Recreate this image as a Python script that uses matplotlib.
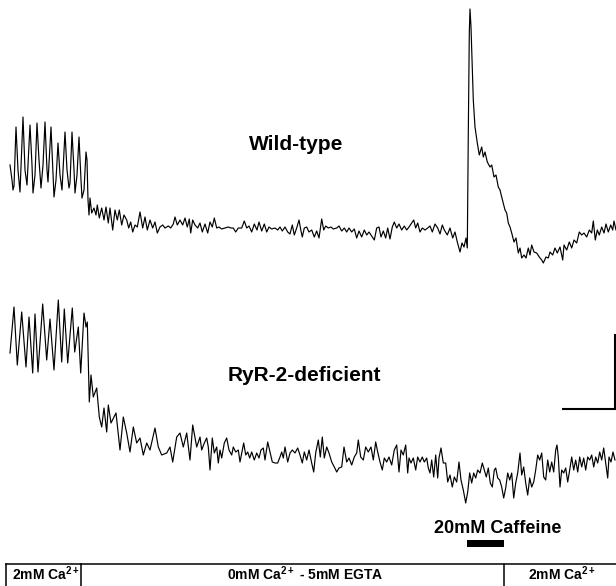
import matplotlib
matplotlib.use("Agg")
import matplotlib.pyplot as plt
import numpy as np

plt.rcParams['font.family'] = ['Liberation Sans', 'DejaVu Sans']
plt.rcParams['mathtext.fontset'] = 'custom'
plt.rcParams['mathtext.rm'] = 'Liberation Sans:bold'
plt.rcParams['mathtext.it'] = 'Liberation Sans:bold'
plt.rcParams['mathtext.bf'] = 'Liberation Sans:bold'

# ---------------- data (time in s, fluorescence in a.u.) ----------------
wt_t = [1, 3, 4, 5, 7, 9, 11, 14, 16, 18, 21, 23, 24, 26, 28, 30, 32, 34, 36, 38, 39, 42, 44, 45, 47, 49, 51, 53,
        56, 58, 60, 61, 63, 65, 66, 68, 70, 72, 73, 75, 77, 78, 79, 80,
        81, 82.7, 85, 87, 88.3, 90.3, 92.7, 95, 97, 99.3, 101, 103.7, 106, 108.3, 110.3, 112.7, 115, 117.7, 119.7,
        121.7, 123.7, 126, 128.3, 131, 133.7, 136, 138.3, 141, 143.7, 146, 148.3, 151, 153.7, 156, 159.3, 161.7,
        164.3, 166, 168.3, 171, 173.7, 176, 178.3, 180.3, 181.7, 183.7, 186,
        188.7, 191, 193.3, 196, 198.7, 201, 203.3, 205.3, 207.7, 210, 212.7, 216, 219.3, 222, 224.3, 226.7, 229.3,
        232.7, 235.3, 237.7, 240, 242.7, 245.3, 248, 250, 252.7, 255.3, 257.7, 260, 262.7, 266, 268.7, 271, 273.3,
        276, 278.7, 281, 283.3, 285.3, 287.7, 290, 292, 293.3, 295.3, 297.7, 300, 302.7, 305.3, 307.7, 310, 312.7,
        314.7, 316.7, 319.3, 322, 324.3, 327.7, 330, 332.7, 335.3, 337.7, 340, 342.7, 345.3, 347.7, 350, 352.7,
        355.3, 357.7, 360, 362.7, 365.3, 367.7, 370, 372, 374.3, 376.7, 378.7, 381, 383.3, 385.3, 387.7, 390, 392.7,
        395.3, 397.7, 400, 402.7, 404.7, 406.7, 408.7, 411, 413.3, 416, 418.7, 421, 423.3, 426, 428.7, 431, 433.3,
        435.3,
        438.3, 441, 443.7, 446, 448.3, 451, 453, 455, 457, 458.3, 459.3, 460.3, 461, 462, 463.3, 464.3, 466, 468.3,
        470.3, 472.7, 474.3, 476, 478.3, 481, 482.7, 485, 487, 489.3, 491, 492.7, 496, 497.7, 499.3, 501, 502.7,
        505, 507, 509.3, 511, 512.7, 515, 517, 519.3, 521, 522.7, 525, 527.7, 530.3, 532.7, 534.3, 537, 539.3, 541,
        543.7, 546, 548.3, 551, 553.7, 555, 557.7, 560.3, 562.7, 565, 567.7, 570.3, 572.7, 575, 577.7, 580.3,
        582.7, 584.3, 586.3, 588.3, 590.3, 592.7, 595, 597, 599.3, 601.7, 603.7, 605, 607]
wt_f = [75, 60, 50, 54, 113, 70, 48, 123, 70, 55, 115, 75, 47, 65, 117, 80, 52, 75, 118, 70, 58, 113, 65, 43,
        60, 97, 65, 50, 108, 70, 52, 57, 108, 70, 47, 65, 103, 60, 42, 50, 88, 80, 40, 25,
        42, 27, 32, 25, 35, 22, 32, 20, 33, 17, 32, 10, 30, 20, 30, 15, 25, 20, 12,
        18, 8, 15, 13, 28, 12, 23, 10, 20, 12, 18, 7, 13, 15, 12, 14, 12,
        16, 23, 15, 20, 15, 22, 13, 21, 7, 20, 15,
        12, 17, 8, 16, 7, 18, 13, 22, 12, 13, 11, 12, 13, 12, 12, 8, 12,
        12, 19, 12, 14, 8, 16, 10, 18, 9, 16, 8, 13, 11, 12, 10, 13, 9,
        13, 8, 6, 15, 5, 12, 20, 9, 3, 12, 13, 8, 10, 3, 9, 2, 21,
        10, 14, 12, 13, 11, 12, 14, 9, 12, 8, 12, 8, 11, 2, 9, 3,
        10, 5, 8, 4, 0, 12, 13, 3, 9, 2, 12, 1, 13, 18, 12, 16,
        10, 14, 10, 13, 17, 20, 12, 17, 8, 12, 10, 12, 14, 8, 16, 12, 6, 15,
        10,
        5, 12, 2, 8, -2, -12, -3, -7, 2, -8, 107, 207, 231, 213, 173, 140, 113, 97,
        85, 93, 83, 88, 78, 73, 75, 63, 65, 53, 50, 43, 30, 27, 17, 13, 7,
        -2, 2, -13, -8, -18, -15, -18, -8, -15, -5, -12, -13, -17, -20, -23, -17, -18, -12,
        -15, -8, -13, -7, -20, -5, -10, -2, -8, 0, -3, 8,
        5, 7, 3, 10, 7, 19, 0, 10, 5, 13, 7, 16, 8, 15, 10, 19, 10]

ryr_t = [1, 5, 8.3, 12.7, 17, 20, 23.7, 26, 29, 33.7, 37.7, 41, 45, 49.3, 52.7, 55.3, 58.7, 63.3, 65.7, 69.3,
         71.7, 75, 77, 78.3, 80.3, 82, 84.3, 87.7, 90.3, 92.7, 95, 97.7, 99.3, 102, 105, 107, 111, 114.3, 117.7,
         121, 124.3, 127.7, 131, 134.3, 137.7, 141, 146, 149.3, 152.7, 157.7, 161, 163.7, 167.7, 171, 174.3,
         177.7, 181, 183.7, 187.7, 191,
         192.7, 195.3, 197.7, 199.3, 201, 203.3, 205.3, 207.7, 209.3, 211, 212.7, 215.3, 217.7, 220, 222.7, 224.3,
         226.7, 229.3, 231, 232.7, 234.7, 236.7, 238.7, 240.7, 242.7, 245.3, 247.7, 250, 252, 254.3, 256, 258.7,
         261, 263.3, 266, 268.7, 271, 272.7, 274.3, 276, 278.7, 281, 283.3, 286, 288.7, 291, 293.3, 295.3, 297.7,
         300, 302.7, 304.7, 306.7, 309.3, 311.3, 313.3, 315.3, 317.7, 320, 322.7, 325.3, 327.7, 330, 332.7, 335,
         337.7, 340, 342.7, 345.3, 347.7, 349.3, 351.7, 354.3, 356.7, 359.3, 362, 364.3, 366.7, 368.7, 371, 373.3,
         375.3, 377.7, 380, 382.7, 385.3, 387.7, 390, 392, 394.3, 396.7,
         398.7, 400, 402, 404.3, 406.7, 408.7, 411, 413.3, 415.3, 417.7, 419.3, 421, 422.7, 424.7, 426.7, 428.7,
         430, 432, 434.3, 436.7, 438.7, 441, 443.3, 445.3, 447.7, 450, 452, 454.3, 456.7, 458.7, 460.7, 462.7,
         464.7, 466.7, 468.7, 471, 473.3, 475.3, 477.3, 479.3, 481.3, 483.3, 485.3, 486.7, 488.7, 490.7, 492.7,
         494.7, 496.7, 498.7, 500.7, 502.7, 504.7, 506.7, 508.7, 511, 512.7, 514.7, 516.7, 518.7, 520.7, 522.7,
         524.7, 526.7, 528.7, 530.7, 532.7, 534.7, 536.7, 538.7, 540.7, 542.7, 544.7, 546.7, 548, 549.3, 551,
         552.7, 554.7, 556.7, 558.7, 560.7, 562.7, 564.7, 566.7, 568.7, 570.7, 572.7, 574.7, 576.7, 578.7, 580.7,
         582.7, 584.7, 586.7, 588.7, 590.7, 592.7, 594.7, 596.7, 598.7, 600, 602, 604, 606]
ryr_f = [107, 153, 95, 148, 93, 143, 87, 146, 88, 156, 100, 141, 90, 160, 98, 151, 97, 152, 108, 133,
         87, 147, 133, 138, 58, 85, 63, 72, 43, 33, 52, 28, 55, 37, 43, 47, 10, 43, 27,
         8, 33, 17, 22, 5, 17, 10, 32, 13, 5, 7, 13, -2, 23, 27, 13,
         27, 0, 35, 13, 23,
         10, 17, 22, 13, -10, 22, 7, 13, -3, 10, 2, 17, 22, 10, 5, 13,
         8, 10, -2, 7, 17, 5, 8, 2, 8, 0, 7, 2, 10, 12, 0, 18,
         8, -2, -3, -3, 3, 8, 2, 13, -2, 7, 10, 7, 12, 5, -3, 8, 0,
         10, -3, -12, 7, 20, 3, 23, 2, 13, 7, -2, -7, -12, -8, -7, 13,
         -2, 2, -5, 3, 7, 20, 3, 0, 13, 8, 13, 0, 18, 8, -2,
         -10, 2, -2, 3, -5, 10, 15, -12, 10, 5, 15,
         -13, 2, -3, 2, -10, 3, -2, 3, -2, 2, -8, -13, 0, -17, 5, -18,
         2, 12, -3, -3, -22, -15, -27, -17, -22, -2, -20, -30, -43, -32, -13, -23,
         -13, -18, -10, -13, -3, -10, -17, -8, -23, -27, -10, -8, -18, -20, -27,
         -38, -28, -13, -20, -13, -38, -23, -13, 7, -15, -7, -23, -35, -18, -27,
         -22, -10, 5, 0, 7, -17, -20, 0, -12, -2, -12, 10, 15, 3, -27,
         -10, -13, -8, -22, -10, 3, -10, 0, -12, 3, -7, 2, -10, 3, 0,
         5, -7, 3, -3, 8, 0, 12, -3, -18, 3, -2, 8, 0]

# labels
trace_labels = ["Wild-type", "RyR-2-deficient"]
caffeine_label = "20mM Caffeine"
caffeine_on, caffeine_off = 457.7, 495.0
solution_labels = [r"2mM Ca$^{\mathrm{2+}}$", r"0mM Ca$^{\mathrm{2+}}$ - 5mM EGTA", r"2mM Ca$^{\mathrm{2+}}$"]

W, H = 616, 586
fig = plt.figure(figsize=(W / 100, H / 100), dpi=100)
fig.patch.set_facecolor("white")

# trace axes (time in s horizontally)
ax = fig.add_axes([0, 0, 1, 1])
ax.set_xlim(-9, W - 9)
ax.set_ylim(0, H)
ax.axis("off")
WT_OFF, RYR_OFF = 346, 126
ax.plot(wt_t, np.array(wt_f) + WT_OFF, color="black", lw=0.85, solid_joinstyle="round")
ax.plot(ryr_t, np.array(ryr_f) + RYR_OFF, color="black", lw=0.85, solid_joinstyle="round")

# overlay axes in pixel space for annotations
ov = fig.add_axes([0, 0, 1, 1], facecolor="none")
ov.set_xlim(0, W)
ov.set_ylim(H, 0)
ov.axis("off")

ov.text(296, 150, trace_labels[0], ha="center", va="baseline", fontsize=15, fontweight="bold")
ov.text(304, 381, trace_labels[1], ha="center", va="baseline", fontsize=15, fontweight="bold")

# scale bar
ov.plot([562, 615, 615], [409, 409, 334], color="black", lw=1.5, solid_capstyle="butt",
        solid_joinstyle="miter")

# caffeine application bar (in time units)
ax.fill_between([caffeine_on, caffeine_off], H - 547, H - 539.5, color="black", lw=0)
ov.text(498, 533, caffeine_label, ha="center", va="baseline", fontsize=13, fontweight="bold")

# solution table
ov.plot([6, 616], [564, 564], color="black", lw=1.1)
for xv in [6, 81, 504]:
    ov.plot([xv, xv], [564, 587], color="black", lw=1.1)
ov.text(46, 580, solution_labels[0], ha="center", va="baseline", fontsize=10, fontweight="bold")
ov.text(305, 580, solution_labels[1], ha="center", va="baseline", fontsize=10, fontweight="bold")
ov.text(562, 580, solution_labels[2], ha="center", va="baseline", fontsize=10, fontweight="bold")

fig.savefig("out.png", dpi=100, facecolor="white")
